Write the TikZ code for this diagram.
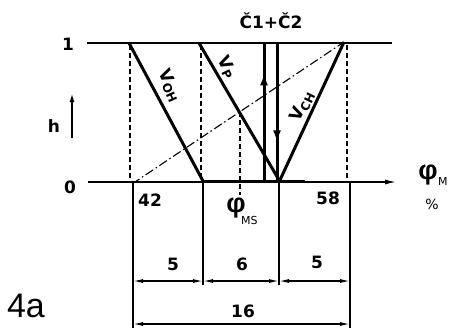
\documentclass[tikz,border=0pt]{standalone}
\usepackage{fontspec}
\setmainfont{DejaVu Sans}
\newfontfamily\handfont{Liberation Sans}
\usetikzlibrary{arrows.meta,decorations.markings}
\begin{document}
\begin{tikzpicture}[x=1pt,y=-1pt,
  thinl/.style={line width=1.2pt},
  thickl/.style={line width=3pt},
  dashl/.style={line width=1.1pt, dash pattern=on 5pt off 3pt},
  dashdot/.style={line width=1.1pt, dash pattern=on 9pt off 3pt on 1.5pt off 3pt},
  dim/.style={line width=1.2pt, {Latex[length=10pt,width=4pt]}-{Latex[length=10pt,width=4pt]}},
  lbl/.style={font=\bfseries\fontsize{17}{17}\selectfont, inner sep=0pt},
  sub/.style={font=\fontsize{11}{11}\selectfont, inner sep=0pt},
  phi/.style={font=\handfont\bfseries\fontsize{27}{27}\selectfont, inner sep=0pt},
  midup/.style={decoration={markings, mark=at position #1 with {\arrow{Latex[length=12pt,width=8pt]}}}, postaction={decorate}},
]
\useasboundingbox (0,0) rectangle (449,330);
% coordinates
\coordinate (TL) at (87,43);
\coordinate (TR) at (392,43);
\coordinate (BL) at (88,182);
\coordinate (BR) at (396,182);
\coordinate (ohT) at (129,43);
\coordinate (ohB) at (203,181);
\coordinate (pT) at (199,43);
\coordinate (pB) at (279,180);
\coordinate (chB) at (280,180);
\coordinate (chT) at (344,42);
\coordinate (upB) at (264,181);
\coordinate (upT) at (264,43);
\coordinate (dnT) at (277,43);
\coordinate (dnB) at (277,181);
\coordinate (ddA) at (132,184);
\coordinate (ddB) at (344,42);
\coordinate (d1T) at (130,45);
\coordinate (d1B) at (130,183);
\coordinate (d2T) at (201,45);
\coordinate (d2B) at (201,183);
\coordinate (d3T) at (240,112);
\coordinate (d3B) at (240,195);
\coordinate (d4T) at (347,45);
\coordinate (d4B) at (347,183);
\coordinate (v1T) at (133,182);
\coordinate (v1B) at (133,328);
\coordinate (v2T) at (203,182);
\coordinate (v2B) at (203,285);
\coordinate (v3T) at (279,182);
\coordinate (v3B) at (279,285);
\coordinate (v4T) at (350,182);
\coordinate (v4B) at (350,328);
\coordinate (m1a) at (133,281);
\coordinate (m1b) at (203,281);
\coordinate (m2b) at (279,281);
\coordinate (m3b) at (350,281);
\coordinate (n1a) at (133,324);
\coordinate (n1b) at (350,324);
\coordinate (hB) at (72,138);
\coordinate (hT) at (72,94);
\coordinate (tkA) at (202,181);
\coordinate (tkB) at (305,181);
\coordinate (ttA) at (100,43);
\coordinate (ttB) at (372,43);
% axes
\draw[thinl] (TL) -- (TR);
\draw[line width=2.2pt] (ttA) -- (ttB);
\draw[thinl, -{Latex[length=11pt,width=5pt]}] (BL) -- (BR);
\draw[thickl] (tkA) -- (tkB);
\draw[thinl, -{Latex[length=8pt,width=5pt]}] (hB) -- (hT);
% dashed
\draw[dashl] (d1T) -- (d1B);
\draw[dashl] (d2T) -- (d2B);
\draw[dashl] (d3T) -- (d3B);
\draw[dashl] (d4T) -- (d4B);
\draw[dashdot] (ddA) -- (ddB);
% thick lines
\draw[thickl] (ohT) -- (ohB);
\draw[thickl] (pT) -- (pB);
\draw[thickl] (chB) -- (chT);
\draw[thickl, midup=0.78] (upB) -- (upT);
\draw[thickl, midup=0.72] (dnT) -- (dnB);
% extension lines
\draw[thinl] (v1T) -- (v1B);
\draw[thinl] (v2T) -- (v2B);
\draw[thinl] (v3T) -- (v3B);
\draw[thinl] (v4T) -- (v4B);
\draw[dim] (m1a) -- (m1b);
\draw[dim] (m1b) -- (m2b);
\draw[dim] (m2b) -- (m3b);
\draw[dim] (n1a) -- (n1b);
% labels
\node[lbl] (one) at (68,44) {1};
\node[lbl] (zero) at (70,187) {0};
\node[lbl] (h) at (54,126) {h};
\node[lbl] (c12) at (271,21) {Č1+Č2};
\node[lbl] (n42) at (150,200) {42};
\node[lbl] (n58) at (328,198) {58};
\node[lbl] (a5) at (173,264) {5};
\node[lbl] (b6) at (242,264) {6};
\node[lbl] (c5) at (317,262) {5};
\node[lbl] (d16) at (243,311) {16};
\node[phi] (pms) at (236,208) {φ};
\node[sub, anchor=west] (ms) at (241,220) {MS};
\node[phi] (pm) at (428,175) {φ};
\node[sub, anchor=west] (mm) at (438,181) {M};
\node[inner sep=0pt, font=\fontsize{14}{14}\selectfont] (pct) at (432,204) {\%};
\node[inner sep=0pt, font=\handfont\fontsize{34}{34}\selectfont] (fa) at (26,306) {4a};
\node[lbl, rotate=-66] (voh) at (170,86) {V\textsubscript{OH}};
\node[lbl, rotate=-64] (vp) at (227,67) {V\textsubscript{P}};
\node[lbl, rotate=64] (vch) at (302,106) {V\textsubscript{CH}};
\end{tikzpicture}
\end{document}
